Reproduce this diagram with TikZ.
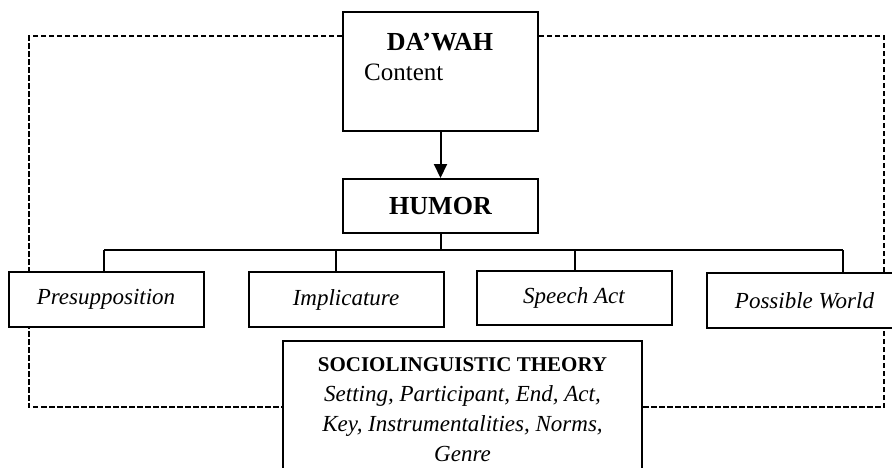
\documentclass[tikz,border=0pt]{standalone}
\usepackage{fontspec}
\setmainfont{Liberation Serif}
\usetikzlibrary{arrows.meta}
\usetikzlibrary{backgrounds}
\usetikzlibrary{shapes,positioning}
\tikzset{>={Triangle[length=14pt,width=13pt]}}
\tikzset{
  box/.style={draw, fill=white, line width=2pt, inner sep=0pt,
    minimum width=195pt, minimum height=55pt},
  item/.style={box, font=\fontsize{23}{26}\selectfont\itshape},
  frame/.style={line width=1.6pt, dash pattern=on 5.5pt off 2.5pt},
  link/.style={line width=2pt}
}

\begin{document}
\begin{tikzpicture}[x=1pt,y=-1pt]
    \useasboundingbox (0,0) rectangle (892,467);
    % top of the chain
    \node[box, minimum height=119pt] (dawah) at (440.5,71.5) {};
    \node[anchor=base, inner sep=0pt, font=\fontsize{26}{30}\selectfont\bfseries] (dawahhead) at (440,50) {DA'WAH};
    \node[anchor=base west, inner sep=0pt, font=\fontsize{25}{30}\selectfont] (dawahsub) at (364,80) {Content};
    \node[box, minimum height=54pt, font=\fontsize{26}{30}\selectfont\bfseries] (humor) at (440.5,206) {HUMOR};
    % pragmatic tools
    \node[item] (presup) at (106,299.5) {Presupposition};
    \node[item] (impl) at (346,299.5) {Implicature};
    \node[item, minimum height=54pt] (speech) at (574,298) {Speech Act};
    \node[item] (possible) at (804.5,300.5) {Possible World};
    % sociolinguistic box
    \node[box, minimum width=359pt, minimum height=150pt, anchor=north] (socio) at (462.5,339.5) {};
    \node[anchor=north, inner sep=0pt, align=center, font=\fontsize{23}{30}\selectfont\itshape] (sociotext) at (462.5,357) {{\fontsize{21}{30}\selectfont\upshape\bfseries SOCIOLINGUISTIC THEORY}\\
      Setting, Participant, End, Act,\\
      Key, Instrumentalities, Norms,\\
      Genre};
    % connectors
    \draw[link,->] (dawah) -- (humor);
    \draw[link] (humor.south) -- ++(0,16) coordinate (hub);
    \draw[link] ([xshift=-2pt]presup.north |- hub) -- ([xshift=38.5pt]possible.north |- hub);
    \foreach \n/\dx in {presup/-2, impl/-10, speech/1, possible/38.5}
        \draw[link] ([xshift=\dx pt]\n.north) -- ([xshift=\dx pt]\n.north |- hub);
    % dashed frame
    \begin{scope}[on background layer]
        \coordinate (tl) at (29,36);
        \coordinate (br) at (884,407);
        \draw[frame] (dawah.west |- tl) -| (tl |- br) -- (socio.west |- br);
        \draw[frame] (socio.east |- br) -| (br |- tl) -- (dawah.east |- tl);
    \end{scope}
\end{tikzpicture}
\end{document}
